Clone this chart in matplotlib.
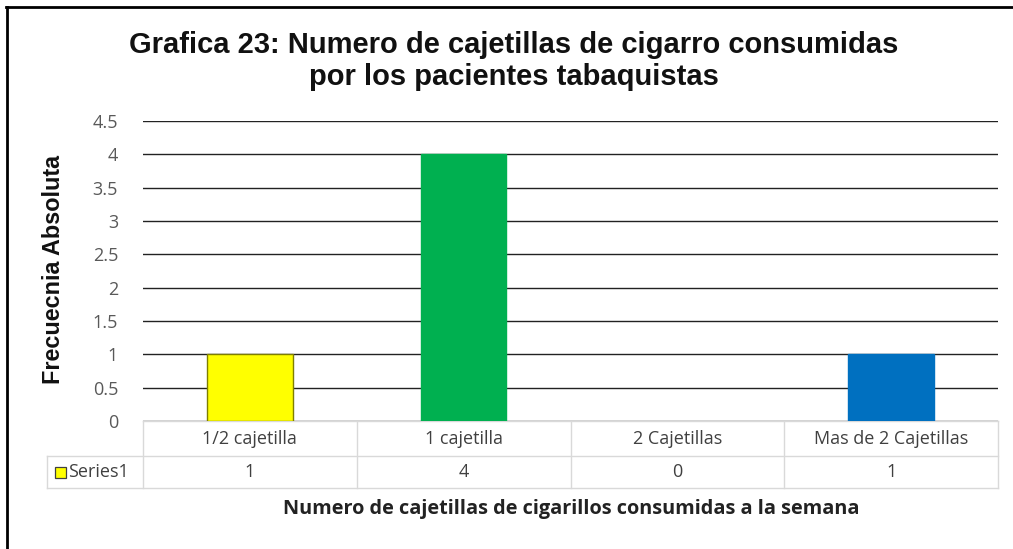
import matplotlib
matplotlib.use("Agg")
import matplotlib.pyplot as plt
from matplotlib.lines import Line2D
from matplotlib.patches import Rectangle
import matplotlib.transforms as mtransforms

categories = ["1/2 cajetilla", "1 cajetilla", "2 Cajetillas", "Mas de 2 Cajetillas"]
values = [1, 4, 0, 1]
series_name = "Series1"
bar_colors = ["#FFFF00", "#00B050", "#00B050", "#0070C0"]
bar_edges = ["#7F7F00", "#00B050", "none", "#0070C0"]
yticks = [0, 0.5, 1, 1.5, 2, 2.5, 3, 3.5, 4, 4.5]
ytick_labels = ["0", "0.5", "1", "1.5", "2", "2.5", "3", "3.5", "4", "4.5"]
title = "Grafica 23: Numero de cajetillas de cigarro consumidas\npor los pacientes tabaquistas"
xlabel = "Numero de cajetillas de cigarillos consumidas a la semana"
ylabel = "Frecuecnia Absoluta"

W, H = 1013, 549
fig = plt.figure(figsize=(W / 100, H / 100), dpi=100)
ax = fig.add_axes([143 / W, 1 - 421 / H, (998 - 143) / W, 300 / H])

x = list(range(len(categories)))
ax.bar(x, values, width=0.40, color=bar_colors, edgecolor=bar_edges, linewidth=1.0, zorder=3)
ax.set_xlim(-0.5, len(categories) - 0.5)
ax.set_ylim(0, 4.5)
ax.set_yticks(yticks)
ax.set_yticklabels(ytick_labels, fontsize=13, color="#595959", family="Open Sans")
ax.tick_params(axis="y", length=0, pad=18)
ax.set_xticks([])
ax.yaxis.grid(True, color="#222222", linewidth=1.0, zorder=0)
for s in ax.spines.values():
    s.set_visible(False)

fig.text(53 / W, 1 - 270 / H, ylabel, rotation=90, ha="center", va="center", fontsize=16.8,
         fontweight="bold", family="Liberation Sans", color="#111111")

# data table below the axis
trans = mtransforms.blended_transform_factory(ax.transData, ax.transAxes)
px = 213.75  # pixels per category
r0, r1, r2 = 0.0, -35 / 300, -67 / 300
grid_c = "#D9D9D9"
left_x = -0.5
hdr_x = -0.5 - (143 - 47) / px
right_x = len(categories) - 0.5
for yy, x0 in [(r0, left_x), (r1, hdr_x), (r2, hdr_x)]:
    ax.add_line(Line2D([x0, right_x], [yy, yy], transform=trans, color=grid_c, lw=1, clip_on=False))
for i in range(len(categories) + 1):
    xb = i - 0.5
    ax.add_line(Line2D([xb, xb], [r0, r2], transform=trans, color=grid_c, lw=1, clip_on=False))
ax.add_line(Line2D([hdr_x, hdr_x], [r1, r2], transform=trans, color=grid_c, lw=1, clip_on=False))

for i, (c, v) in enumerate(zip(categories, values)):
    ax.text(i, (r0 + r1) / 2, c, transform=trans, ha="center", va="center",
            fontsize=13, color="#404040", family="Open Sans", clip_on=False)
    ax.text(i, (r1 + r2) / 2, str(v), transform=trans, ha="center", va="center",
            fontsize=13, color="#404040", family="Open Sans", clip_on=False)

# legend key in table header
key_x0 = hdr_x + 8 / px
ax.add_patch(Rectangle((key_x0, (r1 + r2) / 2 - 5.5 / 300), 11 / px, 11 / 300, transform=trans,
                       facecolor=bar_colors[0], edgecolor="#404040", lw=0.9, clip_on=False))
ax.text(key_x0 + 13 / px, (r1 + r2) / 2, series_name, transform=trans, ha="left", va="center",
        fontsize=13, color="#404040", family="Open Sans", clip_on=False)

fig.text(571 / W, 1 - 509 / H, xlabel, ha="center", va="center", fontsize=14.3,
         fontweight="bold", family="Open Sans", color="#222222")
fig.text(514 / W, 1 - 61 / H, title, ha="center", va="center", fontsize=21,
         fontweight="bold", family="Liberation Sans", color="#111111", linespacing=1.2)

# outer border (top and left visible)
fig.add_artist(Line2D([6 / W, 1], [1 - 7 / H, 1 - 7 / H], transform=fig.transFigure, color="black", lw=2))
fig.add_artist(Line2D([7 / W, 7 / W], [0, 1 - 7 / H], transform=fig.transFigure, color="black", lw=2))

fig.savefig("out.png", dpi=100)
